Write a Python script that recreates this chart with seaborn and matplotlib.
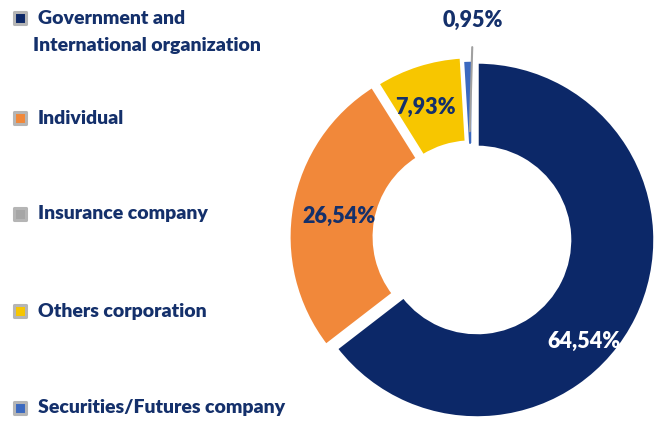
import numpy as np
import matplotlib
matplotlib.use("Agg")
import matplotlib.pyplot as plt
import seaborn as sns

# data
categories = ["Government and\nInternational organization", "Individual",
              "Insurance company", "Others corporation", "Securities/Futures company"]
shares = [64.54, 26.54, 0.04, 7.93, 0.95]
colors = ["#0c2868", "#f1883a", "#a6a6a6", "#f7c600", "#3b69c0"]

sns.set_theme(style="white")
plt.rcParams["font.family"] = ["Lato", "DejaVu Sans"]
navy_text = "#14306b"

fig = plt.figure(figsize=(6.59, 4.21), dpi=100)

# donut axes: centre ~ (473, 238) px, radius ~178 px
L = 1.15
half = 178 * L
ax = fig.add_axes([(473 - half) / 659, (421 - 238 - half) / 421, 2 * half / 659, 2 * half / 421])

wedges, _ = ax.pie(shares, colors=colors, startangle=90, counterclock=False,
                   explode=[0.025, 0.035, 0.0, 0.02, 0.0],
                   wedgeprops=dict(width=0.48, edgecolor="white", linewidth=2.5))
ax.set_xlim(-L, L)
ax.set_ylim(-L, L)
ax.set_aspect("equal")
ax.axis("off")

# value labels
def fmt(v):
    return f"{v:.2f}%".replace(".", ",")

label_pos = {0: (-43, 0.85), 1: (171, 0.76), 3: (110, 0.78)}
text_colors = {0: "white", 1: navy_text, 3: navy_text}
for i, (ang, r) in label_pos.items():
    a = np.deg2rad(ang)
    ax.text(r * np.cos(a), r * np.sin(a), fmt(shares[i]), ha="center", va="center",
            fontsize=15.5, fontweight="heavy", color=text_colors[i])

# small slice with leader line
start = 90 - 360 * sum(shares[:4]) / sum(shares)
mid = np.deg2rad(start - 180 * shares[4] / sum(shares))
ax.annotate(fmt(shares[4]), xy=(0.6 * np.cos(mid), 0.6 * np.sin(mid)), xytext=(0.0, 1.22),
            ha="center", va="center", fontsize=15.5, fontweight="heavy", color=navy_text,
            arrowprops=dict(arrowstyle="-", color="#a0a0a0", lw=1.5, shrinkA=9, shrinkB=0),
            annotation_clip=False)

# legend drawn on its own pixel-space axes
lax = fig.add_axes([0, 0, 1, 1])
lax.set_xlim(0, 659)
lax.set_ylim(421, 0)
lax.axis("off")
leg_y = [18, 118, 214, 311, 408]
lax.scatter([20] * len(leg_y), leg_y, marker="s", s=70, c=colors,
            edgecolors="#b5b5b5", linewidths=2.2, zorder=3)
for y, name in zip(leg_y, categories):
    lines = name.split("\n")
    lax.text(38, y, lines[0], ha="left", va="center", fontsize=14,
             fontweight="heavy", color=navy_text)
    if len(lines) > 1:
        lax.text(33, y + 28, lines[1], ha="left", va="center", fontsize=14,
                 fontweight="heavy", color=navy_text)

fig.savefig("out.png", dpi=100)
